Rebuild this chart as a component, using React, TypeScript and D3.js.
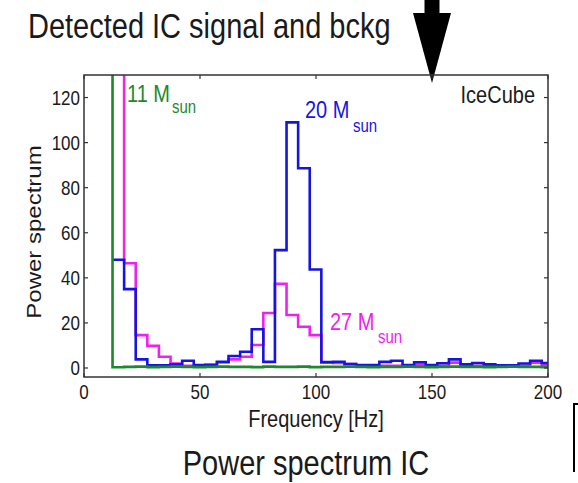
import React from "react";
import * as d3 from "d3";

const binStart = [12.3, 17.3, 22.3, 27.3, 32.3, 37.3, 42.3, 47.3, 52.3, 57.3, 62.3, 67.3, 72.3, 77.3, 82.3, 87.3, 92.3, 97.3, 102.3, 107.3, 112.3, 117.3, 122.3, 127.3, 132.3, 137.3, 142.3, 147.3, 152.3, 157.3, 162.3, 167.3, 172.3, 177.3, 182.3, 187.3, 192.3, 197.3];
const binEnd = 202.3;

const blue20 = [48, 35, 3.8, 1.2, 1.2, 1.6, 3.2, 1.3, 1.3, 2.8, 5.3, 7.2, 17.2, 2.7, 52.3, 109, 88.6, 43.7, 2.6, 2.8, 1.8, 1.3, 1.3, 2.7, 3.2, 1.3, 2.5, 1.3, 2.1, 3.8, 1.6, 2.2, 1.6, 1.2, 1.2, 2, 3.2, 2.2];
const magenta27 = [400, 46.5, 14.6, 9.8, 5, 2, 1, 1, 1.5, 2.5, 3.8, 5, 10.2, 24.4, 37.3, 23.5, 18.3, 14.6, 2.5, 2.2, 1.8, 1, 0.9, 1, 1, 0.9, 1.2, 0.9, 1, 2.4, 1, 1, 0.9, 0.9, 0.9, 1, 2.3, 1.5];
const greenLead = 400;
const green11 = [0.3, 0.5, 0.6, 0.4, 0.5, 0.6, 0.5, 0.4, 0.5, 0.6, 0.5, 0.5, 0.4, 0.6, 0.5, 0.5, 0.6, 0.4, 0.5, 0.5, 0.6, 0.5, 0.4, 0.5, 0.5, 0.6, 0.5, 0.4, 0.5, 0.6, 0.5, 0.5, 0.4, 0.5, 0.6, 0.5, 0.5, 0.4];

const xTicks = [0, 50, 100, 150, 200];
const yTicks = [0, 20, 40, 60, 80, 100, 120];
const arrowFreq = 150;

const W = 578, H = 483;
const L = 84, R = 548, T = 75, B = 377;
const SY = 1.2;
const FONT = "'Liberation Sans', Arial, sans-serif";

function Txt(props: any) {
  const { x, y, size, anchor = "start", fill = "#1a1a1a", rotate = 0, children } = props;
  return (
    <text
      transform={`translate(${x},${y}) scale(1,${SY})${rotate ? ` rotate(${rotate})` : ""}`}
      fontSize={size}
      fontFamily={FONT}
      textAnchor={anchor}
      fill={fill}
    >
      {children}
    </text>
  );
}

export default function App() {
  const x = d3.scaleLinear().domain([0, 200]).range([L, R]);
  const y = d3.scaleLinear().domain([-4, 130]).range([B, T]);
  const line = d3
    .line<[number, number]>()
    .x((d) => x(d[0]))
    .y((d) => y(d[1]))
    .curve(d3.curveStepAfter);

  const pts = (vals: number[]): [number, number][] => {
    const p: [number, number][] = binStart.map((b, i) => [b, vals[i]]);
    p.push([binEnd, vals[vals.length - 1]]);
    return p;
  };
  const bluePts = pts(blue20);
  const magPts = pts(magenta27);
  const greenPts: [number, number][] = [[0, greenLead], ...pts(green11)];

  const ax = x(arrowFreq);
  const tipY = 83;

  return (
    <svg width={W} height={H} style={{ position: "absolute", left: 0, top: 0, background: "#fff" }}>
      <rect x={0} y={0} width={W} height={H} fill="#fff" />
      <defs>
        <clipPath id="plotclip">
          <rect x={L} y={T} width={R - L} height={B - T} />
        </clipPath>
      </defs>

      <Txt x={28} y={38} size={29}>Detected IC signal and bckg</Txt>

      {/* arrow */}
      <polygon
        points={`${ax - 7.5},0 ${ax + 7.5},0 ${ax + 7.5},13 ${ax + 19},13 ${ax},${tipY} ${ax - 19},13 ${ax - 7.5},13`}
        fill="#000"
      />

      <g clipPath="url(#plotclip)">
        <path d={line(magPts) || ""} fill="none" stroke="#ee22ee" strokeWidth={2.6} />
        <path d={line(bluePts) || ""} fill="none" stroke="#1515e0" strokeWidth={2.6} />
        <path d={line(greenPts) || ""} fill="none" stroke="#1c8a2c" strokeWidth={2.6} />
      </g>

      <rect x={L} y={T} width={R - L} height={B - T} fill="none" stroke="#333" strokeWidth={1.5} />
      {xTicks.map((t) => (
        <g key={"x" + t}>
          <line x1={x(t)} x2={x(t)} y1={B} y2={B - 4} stroke="#333" strokeWidth={1.2} />
          <line x1={x(t)} x2={x(t)} y1={T} y2={T + 4} stroke="#333" strokeWidth={1.2} />
          <Txt x={x(t)} y={399} size={17} anchor="middle">{t}</Txt>
        </g>
      ))}
      {yTicks.map((t) => (
        <g key={"y" + t}>
          <line x1={L} x2={L + 4} y1={y(t)} y2={y(t)} stroke="#333" strokeWidth={1.2} />
          <line x1={R} x2={R - 4} y1={y(t)} y2={y(t)} stroke="#333" strokeWidth={1.2} />
          <Txt x={80} y={y(t) + 7} size={17} anchor="end">{t}</Txt>
        </g>
      ))}

      <Txt x={(L + R) / 2} y={427} size={20} anchor="middle">Frequency [Hz]</Txt>
      <Txt x={41} y={232} size={20} anchor="middle" rotate={-90}>Power spectrum</Txt>

      <Txt x={535} y={103} size={20} anchor="end">IceCube</Txt>

      <Txt x={127} y={102} size={20} fill="#1c8a2c">11 M</Txt>
      <Txt x={172} y={113} size={15} fill="#1c8a2c">sun</Txt>

      <Txt x={305} y={118} size={20} fill="#1515e0">20 M</Txt>
      <Txt x={353} y={132} size={15} fill="#1515e0">sun</Txt>

      <Txt x={330} y={330} size={20} fill="#ee22ee">27 M</Txt>
      <Txt x={378} y={343} size={15} fill="#ee22ee">sun</Txt>

      <Txt x={306} y={475} size={29} anchor="middle">Power spectrum IC</Txt>

      <path d="M 580 404 L 574 404 L 574 472" fill="none" stroke="#000" strokeWidth={2} />
    </svg>
  );
}
